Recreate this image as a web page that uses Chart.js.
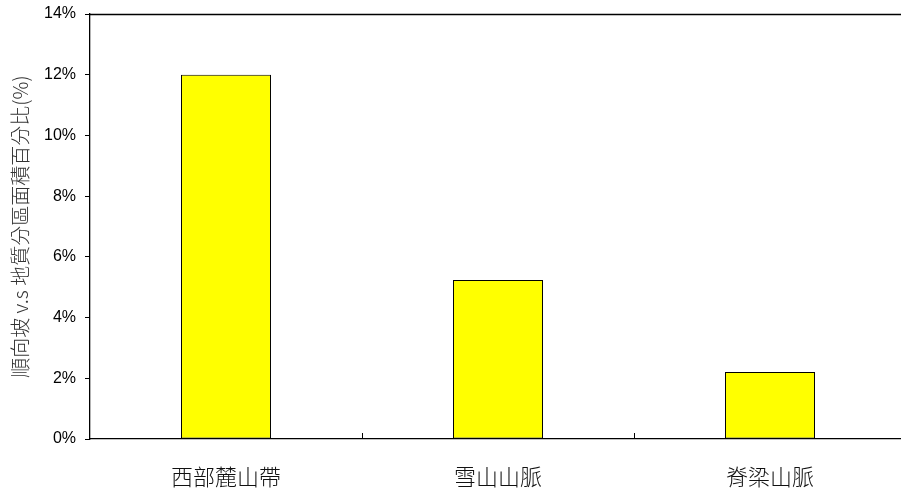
<!DOCTYPE html>
<html>
<head>
<meta charset="utf-8">
<script src="https://cdn.jsdelivr.net/npm/chart.js@4.4.1/dist/chart.umd.min.js"></script>
<style>
  html, body { margin: 0; padding: 0; background: #fff; overflow: hidden; }
  #wrap { width: 907px; height: 494px; position: relative; }
</style>
</head>
<body>
<div id="wrap"><canvas id="c"></canvas></div>
<script>
// Regions and the share of dip-slope area in each (percent)
const categories = ['西部麓山帶', '雪山山脈', '脊梁山脈'];
const shareValues = [12.0, 5.24, 2.21];
const yTicks = [0, 2, 4, 6, 8, 10, 12, 14];
const yTitle = '順向坡 v.s 地質分區面積百分比(%)';

// Frame line along the top of the plot and short inward ticks between categories
const framePlugin = {
  id: 'frame',
  afterDatasetsDraw(chart) {
    const { ctx, chartArea, scales } = chart;
    const x = scales.x;
    ctx.save();
    ctx.strokeStyle = '#000';
    ctx.lineWidth = 1.3;
    ctx.beginPath();
    ctx.moveTo(chartArea.left, chartArea.top + 0.5);
    ctx.lineTo(chartArea.right, chartArea.top + 0.5);
    ctx.stroke();
    ctx.lineWidth = 1;
    for (let i = 0; i < categories.length - 1; i++) {
      const px = Math.round((x.getPixelForValue(i) + x.getPixelForValue(i + 1)) / 2) + 0.5;
      ctx.beginPath();
      ctx.moveTo(px, chartArea.bottom);
      ctx.lineTo(px, chartArea.bottom - 6);
      ctx.stroke();
    }
    ctx.restore();
  }
};

new Chart(document.getElementById('c'), {
  type: 'bar',
  data: {
    labels: categories,
    datasets: [{
      data: shareValues,
      backgroundColor: '#FFFF00',
      borderColor: '#000',
      borderWidth: 1,
      borderSkipped: false,
      categoryPercentage: 1,
      barPercentage: 0.331
    }]
  },
  options: {
    responsive: true,
    maintainAspectRatio: false,
    animation: false,
    devicePixelRatio: 1,
    layout: { padding: { top: 14, right: 1, left: 0, bottom: 0 } },
    plugins: { legend: { display: false }, tooltip: { enabled: false } },
    scales: {
      x: {
        grid: { display: false, drawTicks: false },
        border: { display: true, color: '#000', width: 1.3 },
        ticks: {
          color: '#111',
          padding: 24,
          font: { family: '"Noto Sans CJK TC", "Noto Sans CJK SC", sans-serif', size: 22, weight: 300 }
        },
        afterFit(s) { s.height = 55; s.paddingLeft = 0; s.paddingRight = 0; }
      },
      y: {
        min: 0,
        max: 14,
        afterBuildTicks(s) { s.ticks = yTicks.map(v => ({ value: v })); },
        grid: { drawOnChartArea: false, drawTicks: true, tickLength: 5, color: '#000' },
        border: { display: true, color: '#000', width: 1.3 },
        ticks: {
          color: '#000',
          padding: 9,
          font: { family: '"Liberation Sans", Arial, sans-serif', size: 16 },
          callback: v => v + '%'
        },
        title: {
          display: true,
          text: yTitle,
          color: '#333',
          padding: { top: 8, bottom: 0 },
          font: { family: '"Noto Sans CJK TC", "Noto Sans CJK SC", sans-serif', size: 20, weight: 300 }
        },
        afterFit(s) { s.width = 90; s.paddingTop = 0; s.paddingBottom = 0; }
      }
    }
  },
  plugins: [framePlugin]
});
</script>
</body>
</html>
